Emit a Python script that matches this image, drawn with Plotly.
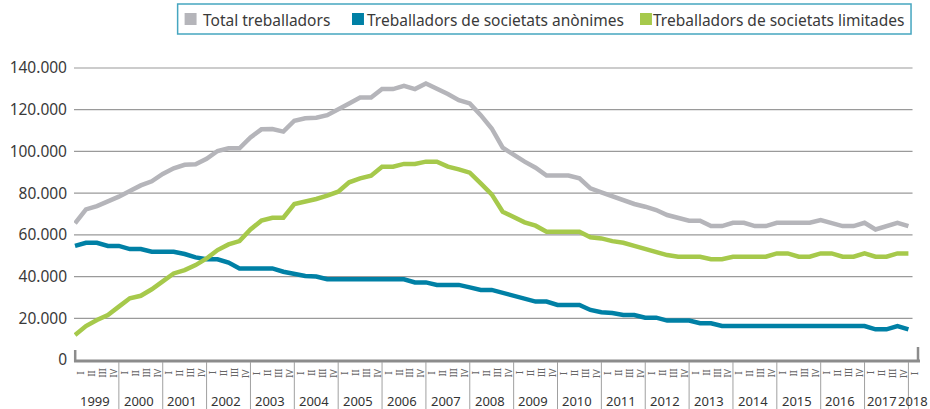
import plotly.graph_objects as go

# ---------------- data ----------------
years = [str(y) for y in range(1999, 2019)]
quarter_labels = ["I", "II", "III", "IV"]
series_names = ["Total treballadors",
                "Treballadors de societats anònimes",
                "Treballadors de societats limitades"]

total = [65500, 72200, 73800, 75900, 78300, 81000, 83700, 85700, 89200, 91900,
         93600, 93800, 96500, 100200, 101500, 101500, 106700, 110600, 110700, 109500,
         114700, 115900, 116200, 117400, 119900, 123000, 125800, 125800, 129900, 129900,
         131500, 129900, 132600, 130200, 127500, 124600, 123000, 117400, 111000, 101800,
         98300, 95100, 92200, 88400, 88400, 88400, 87100, 82300, 80400, 78500,
         76400, 74800, 73500, 71900, 69500, 67900, 66800, 66800, 64200, 64200,
         65800, 65800, 64200, 64200, 65800, 65800, 65800, 65800, 67100, 65500,
         64200, 64200, 65800, 62600, 64200, 65800, 64200]

anonimes = [54700, 56200, 56200, 54700, 54700, 53200, 53200, 51900, 51900, 51900,
            50800, 49200, 48300, 48300, 46700, 43900, 43900, 43900, 43900, 42300,
            41200, 40300, 40000, 38700, 38700, 38700, 38700, 38700, 38700, 38700,
            38700, 37200, 37200, 36000, 36000, 36000, 34800, 33600, 33600, 32300,
            30800, 29600, 28000, 28000, 26400, 26400, 26400, 24000, 22900, 22500,
            21600, 21600, 20300, 20300, 18900, 18900, 18900, 17600, 17600, 16300,
            16300, 16300, 16300, 16300, 16300, 16300, 16300, 16300, 16300, 16300,
            16300, 16300, 16300, 14700, 14700, 16300, 14700]

limitades = [12000, 16300, 19200, 21600, 25600, 29600, 30800, 33900, 37700, 41500,
             43100, 45500, 48700, 52700, 55400, 57000, 62600, 66800, 68200, 68200,
             74800, 75900, 77200, 78800, 80700, 85200, 87100, 88400, 92700, 92700,
             94000, 94000, 95100, 95100, 92700, 91400, 89800, 84700, 79400, 71100,
             68700, 66000, 64400, 61500, 61500, 61500, 61500, 58800, 58300, 57000,
             56200, 54700, 53200, 51600, 50300, 49500, 49500, 49500, 48300, 48300,
             49500, 49500, 49500, 49500, 51100, 51100, 49500, 49500, 51100, 51100,
             49500, 49500, 51100, 49500, 49500, 51100, 51100]

y_ticks = [0, 20000, 40000, 60000, 80000, 100000, 120000, 140000]
y_tick_labels = ["0", "20.000", "40.000", "60.000", "80.000", "100.000", "120.000", "140.000"]

quarter_index = list(range(len(total)))

# ---------------- layout geometry ----------------
W, H = 930, 409
ML, MR, MT, MB = 71, 10, 50, 49
PW, PH = W - ML - MR, H - MT - MB
QPX = 11.005                    # px per quarter
X0 = -1.0 / QPX
X1 = X0 + PW / QPX
Y1 = 140000 * PH / 292.0

def px_x(p):
    return (p - ML) / PW

def px_y(p):
    return (H - MB - p) / PH

def u_to_px(u):
    return ML + (u - X0) * QPX

colors = ["#b5b5ba", "#0080a5", "#a6c94b"]
font_family = "Noto Sans, Liberation Sans, Arial, sans-serif"

fig = go.Figure()
for name, vals, col in zip(series_names, [total, anonimes, limitades], colors):
    fig.add_trace(go.Scatter(x=quarter_index, y=vals, mode="lines", name=name,
                             line=dict(color=col, width=4.5), showlegend=False,
                             hoverinfo="skip"))

shapes = []
# horizontal gridlines
for v in y_ticks[1:]:
    shapes.append(dict(type="line", xref="paper", yref="y",
                       x0=px_x(71), x1=px_x(912.5), y0=v, y1=v,
                       line=dict(color="#9a9a9a", width=1.2), layer="below"))
# x axis baseline
shapes.append(dict(type="line", xref="paper", yref="paper",
                   x0=px_x(71), x1=px_x(920), y0=px_y(361), y1=px_y(361),
                   line=dict(color="#8c8c8c", width=3)))
# end stubs
shapes.append(dict(type="line", xref="paper", yref="paper",
                   x0=px_x(72.2), x1=px_x(72.2), y0=px_y(350), y1=px_y(362),
                   line=dict(color="#8c8c8c", width=2.5)))
shapes.append(dict(type="line", xref="paper", yref="paper",
                   x0=px_x(918), x1=px_x(918), y0=px_y(347), y1=px_y(362),
                   line=dict(color="#8c8c8c", width=2.5)))
# year separators
for k in range(1, len(years)):
    xp = u_to_px(4 * k)
    shapes.append(dict(type="line", xref="paper", yref="paper",
                       x0=px_x(xp), x1=px_x(xp), y0=px_y(362), y1=px_y(409),
                       line=dict(color="#a0a0a0", width=1)))

# manual legend box
shapes.append(dict(type="rect", xref="paper", yref="paper",
                   x0=px_x(175), x1=px_x(911), y0=px_y(34), y1=px_y(4),
                   line=dict(color="#46a6c0", width=1.5), fillcolor="white"))
legend_sq_x = [182, 350, 639]
legend_tx_x = [198, 363, 650]
for sx, col in zip(legend_sq_x, colors):
    shapes.append(dict(type="rect", xref="paper", yref="paper",
                       x0=px_x(sx), x1=px_x(sx + 12), y0=px_y(25), y1=px_y(13),
                       line=dict(width=0), fillcolor=col))

annotations = []
for tx, name in zip(legend_tx_x, series_names):
    annotations.append(dict(text=name, xref="paper", yref="paper",
                            x=px_x(tx), y=px_y(19.5), xanchor="left", yanchor="middle",
                            showarrow=False,
                            font=dict(family=font_family, size=15.5, color="#3a3a3a")))

# quarter labels
for i in quarter_index:
    annotations.append(dict(text=quarter_labels[i % 4], xref="x", yref="paper",
                            x=i + 0.5, y=px_y(373), xanchor="center", yanchor="middle",
                            textangle=-90, showarrow=False,
                            font=dict(family=font_family, size=9, color="#666666")))

# year labels
year_pos = [4 * k + 1.8 for k in range(len(years) - 1)] + [76.45]
year_pos[-2] = 73.6
for yp, yl in zip(year_pos, years):
    annotations.append(dict(text=yl, xref="x", yref="paper",
                            x=yp, y=px_y(401), xanchor="center", yanchor="middle",
                            showarrow=False,
                            font=dict(family=font_family, size=13, color="#333333")))

fig.update_layout(
    width=W, height=H,
    margin=dict(l=ML, r=MR, t=MT, b=MB, pad=0),
    paper_bgcolor="white", plot_bgcolor="white",
    showlegend=False,
    shapes=shapes, annotations=annotations,
    xaxis=dict(range=[X0, X1], showgrid=False, zeroline=False, showline=False,
               showticklabels=False, ticks="", fixedrange=True),
    yaxis=dict(range=[0, Y1], tickvals=y_ticks, ticktext=y_tick_labels,
               showgrid=False, zeroline=False, showline=False, ticks="",
               ticklabelstandoff=6,
               tickfont=dict(family=font_family, size=15.5, color="#3a3a3a"),
               fixedrange=True),
)

fig.write_html("out.html", config={"displayModeBar": False},
               post_script="document.body.style.margin='0';document.body.style.overflow='hidden';")
